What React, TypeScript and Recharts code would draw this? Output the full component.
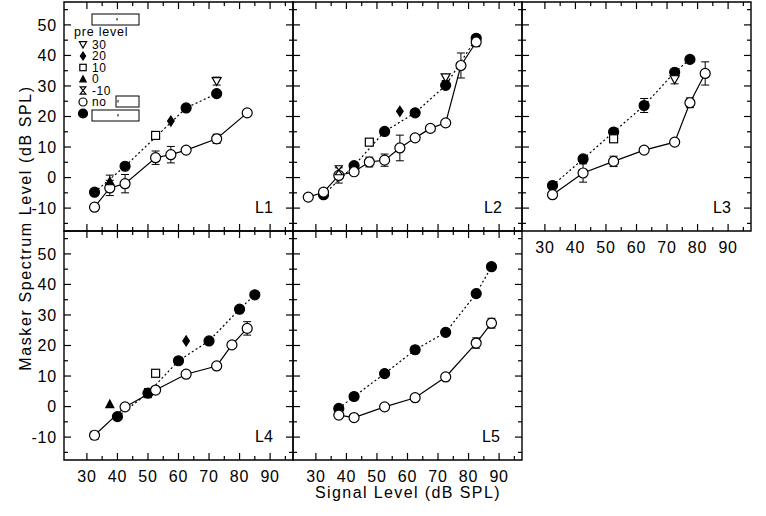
import { ScatterChart, Scatter, XAxis, YAxis, ErrorBar, ReferenceArea } from "recharts";

const xTicks = [30, 35, 40, 45, 50, 55, 60, 65, 70, 75, 80, 85, 90, 95];
const yTicks = [-15, -10, -5, 0, 5, 10, 15, 20, 25, 30, 35, 40, 45, 50, 55];
const preLevels = ["30", "20", "10", "0", "-10", "no"];

// x = signal level, y = masker level, e = error (dB), pre = pre level
const l1None = [
  { x: 32.5, y: -9.7, e: 0 }, { x: 37.5, y: -3.4, e: 2.5 }, { x: 42.5, y: -2.0, e: 3 },
  { x: 52.5, y: 6.5, e: 2.2 }, { x: 57.5, y: 7.5, e: 2.7 }, { x: 62.5, y: 9.0, e: 0 },
  { x: 72.5, y: 12.7, e: 1.5 }, { x: 82.5, y: 21.2, e: 0 },
];
const l1Fill = [
  { x: 32.5, y: -4.8, e: 0 }, { x: 42.5, y: 3.7, e: 0 }, { x: 62.5, y: 22.8, e: 0 },
  { x: 72.5, y: 27.5, e: 0 },
];
const l1Pre = [
  { x: 72.5, y: 31.6, e: 1.3, pre: 30 }, { x: 57.5, y: 18.5, e: 0, pre: 20 },
  { x: 52.5, y: 13.8, e: 0, pre: 10 }, { x: 37.5, y: -1.2, e: 2, pre: 0 },
];

const l2None = [
  { x: 27.5, y: -6.4, e: 0 }, { x: 32.5, y: -4.8, e: 0 }, { x: 37.5, y: 0.7, e: 2.5 },
  { x: 42.5, y: 1.9, e: 0 }, { x: 47.5, y: 5.1, e: 1.6 }, { x: 52.5, y: 5.7, e: 2 },
  { x: 57.5, y: 9.7, e: 4.2 }, { x: 62.5, y: 13.0, e: 0 }, { x: 67.5, y: 16.1, e: 0 },
  { x: 72.5, y: 17.9, e: 0 }, { x: 77.5, y: 36.7, e: 4.1 }, { x: 82.5, y: 44.4, e: 1.5 },
];
const l2Fill = [
  { x: 32.5, y: -5.6, e: 0 }, { x: 42.5, y: 3.9, e: 0 }, { x: 52.5, y: 15.1, e: 0 },
  { x: 62.5, y: 21.2, e: 0 }, { x: 72.5, y: 30.2, e: 0 }, { x: 82.5, y: 45.6, e: 1 },
];
const l2Pre = [
  { x: 37.5, y: 2.4, e: 0, pre: -10 }, { x: 47.5, y: 11.6, e: 0, pre: 10 },
  { x: 57.5, y: 21.7, e: 0, pre: 20 }, { x: 72.5, y: 32.8, e: 1, pre: 30 },
];

const l3None = [
  { x: 32.5, y: -5.6, e: 1 }, { x: 42.5, y: 1.5, e: 3 }, { x: 52.5, y: 5.3, e: 1.7 },
  { x: 62.5, y: 9.0, e: 0 }, { x: 72.5, y: 11.6, e: 0 }, { x: 77.5, y: 24.5, e: 1.6 },
  { x: 82.5, y: 34.1, e: 3.8 },
];
const l3Fill = [
  { x: 32.5, y: -2.6, e: 0 }, { x: 42.5, y: 6.1, e: 0 }, { x: 52.5, y: 14.9, e: 0 },
  { x: 62.5, y: 23.6, e: 2.3 }, { x: 72.5, y: 34.5, e: 0 }, { x: 77.5, y: 38.7, e: 0 },
];
const l3Pre = [
  { x: 52.5, y: 12.7, e: 0, pre: 10 }, { x: 72.5, y: 32.2, e: 1.5, pre: 30 },
];

const l4None = [
  { x: 32.5, y: -9.4, e: 1.3 }, { x: 42.5, y: -0.1, e: 0 }, { x: 52.5, y: 5.4, e: 0 },
  { x: 62.5, y: 10.6, e: 0 }, { x: 72.5, y: 13.3, e: 0 }, { x: 77.5, y: 20.2, e: 0 },
  { x: 82.5, y: 25.6, e: 2.2 },
];
const l4Fill = [
  { x: 40, y: -3.3, e: 0 }, { x: 50, y: 4.4, e: 1.5 }, { x: 60, y: 15.0, e: 0 },
  { x: 70, y: 21.5, e: 0 }, { x: 80, y: 31.9, e: 0 }, { x: 85, y: 36.6, e: 0 },
];
const l4Pre = [
  { x: 37.5, y: 0.8, e: 0, pre: 0 }, { x: 52.5, y: 10.9, e: 0, pre: 10 },
  { x: 62.5, y: 21.5, e: 0, pre: 20 },
];

const l5None = [
  { x: 37.5, y: -2.8, e: 0 }, { x: 42.5, y: -3.6, e: 0 }, { x: 52.5, y: -0.1, e: 0 },
  { x: 62.5, y: 2.9, e: 0 }, { x: 72.5, y: 9.7, e: 0 }, { x: 82.5, y: 20.8, e: 1.7 },
  { x: 87.5, y: 27.3, e: 1.6 },
];
const l5Fill = [
  { x: 37.5, y: -0.6, e: 0 }, { x: 42.5, y: 3.3, e: 0 }, { x: 52.5, y: 10.8, e: 0 },
  { x: 62.5, y: 18.6, e: 0 }, { x: 72.5, y: 24.3, e: 0 }, { x: 82.5, y: 37.0, e: 0 },
  { x: 87.5, y: 45.8, e: 0 },
];

const SIZE = 229;
const PAD = 40;
const XD = [22.5, 97.5];
const YD = [-17.5, 57.5];
const FONT = "'Liberation Sans', Arial, sans-serif";

function Marker({ cx, cy, kind, k = 1 }: { cx: number; cy: number; kind: string; k?: number }) {
  const s = { stroke: "#000", strokeWidth: 1.2 };
  switch (kind) {
    case "no":
      return <circle cx={cx} cy={cy} r={5 * k} fill="#fff" {...s} />;
    case "fill":
      return <circle cx={cx} cy={cy} r={5 * k} fill="#000" {...s} />;
    case "30":
      return <path d={`M${cx - 4.5 * k},${cy - 3.5 * k}L${cx + 4.5 * k},${cy - 3.5 * k}L${cx},${cy + 4.5 * k}Z`} fill="#fff" {...s} />;
    case "20":
      return <path d={`M${cx},${cy - 5 * k}L${cx + 3.3 * k},${cy}L${cx},${cy + 5 * k}L${cx - 3.3 * k},${cy}Z`} fill="#000" {...s} />;
    case "10":
      return <rect x={cx - 4 * k} y={cy - 4 * k} width={8 * k} height={8 * k} fill="#fff" {...s} />;
    case "0":
      return <path d={`M${cx - 4 * k},${cy + 3.5 * k}L${cx + 4 * k},${cy + 3.5 * k}L${cx},${cy - 4 * k}Z`} fill="#000" {...s} />;
    default:
      return <path d={`M${cx - 3.5 * k},${cy - 4.5 * k}L${cx + 3.5 * k},${cy - 4.5 * k}L${cx - 3.5 * k},${cy + 4.5 * k}L${cx + 3.5 * k},${cy + 4.5 * k}Z`} fill="#fff" {...s} />;
  }
}

function XTick(p: any) {
  const v = p.payload.value;
  const major = v % 10 === 0;
  const len = major ? 7 : 4;
  return (
    <g>
      <line x1={p.x} x2={p.x} y1={p.y} y2={p.y - len} stroke="#000" strokeWidth={1.2} />
      <line x1={p.x} x2={p.x} y1={p.y - SIZE} y2={p.y - SIZE + len} stroke="#000" strokeWidth={1.2} />
      {p.showLabel && major && v <= 90 && (
        <text x={p.x} y={p.y + 21.5} textAnchor="middle" fontSize={16} letterSpacing={0.8} fontFamily={FONT} fill="#000">
          {v}
        </text>
      )}
    </g>
  );
}

function YTick(p: any) {
  const v = p.payload.value;
  const major = v % 10 === 0;
  const len = major ? 7 : 4;
  return (
    <g>
      <line x1={p.x} x2={p.x + len} y1={p.y} y2={p.y} stroke="#000" strokeWidth={1.2} />
      <line x1={p.x + SIZE} x2={p.x + SIZE - len} y1={p.y} y2={p.y} stroke="#000" strokeWidth={1.2} />
      {p.showLabel && major && v >= -10 && v <= 50 && (
        <text x={p.x - 7} y={p.y} dy="0.36em" textAnchor="end" fontSize={16} letterSpacing={0.8} fontFamily={FONT} fill="#000">
          {v}
        </text>
      )}
    </g>
  );
}

type Pt = { x: number; y: number; e: number; pre?: number };

function Panel({ left, top, none, fill, pre, xLabels, yLabels }: {
  left: number; top: number; none: Pt[]; fill: Pt[]; pre: Pt[]; xLabels: boolean; yLabels: boolean;
}) {
  return (
    <div style={{ position: "absolute", left: left - PAD, top: top - PAD }}>
      <ScatterChart width={SIZE + 2 * PAD} height={SIZE + 2 * PAD} margin={{ top: PAD, right: PAD, bottom: PAD - 1, left: PAD - 1 }}>
        <XAxis type="number" dataKey="x" domain={XD} ticks={xTicks} interval={0} allowDataOverflow height={1}
          axisLine={false} tickLine={false} tickSize={0} tickMargin={0}
          tick={(p: any) => <XTick {...p} showLabel={xLabels} />} />
        <YAxis type="number" dataKey="y" domain={YD} ticks={yTicks} interval={0} allowDataOverflow width={1}
          axisLine={false} tickLine={false} tickSize={0} tickMargin={0}
          tick={(p: any) => <YTick {...p} showLabel={yLabels} />} />
        <ReferenceArea x1={XD[0]} x2={XD[1]} y1={YD[0]} y2={YD[1]} fill="none" fillOpacity={0} stroke="#000" strokeWidth={1.4} />
        <Scatter data={fill} fill="#000" isAnimationActive={false}
          line={{ stroke: "#000", strokeWidth: 1.2, strokeDasharray: "2 2.5" }}
          shape={(p: any) => <Marker cx={p.cx} cy={p.cy} kind="fill" />}>
          <ErrorBar dataKey="e" direction="y" width={4} stroke="#000" strokeWidth={1} />
        </Scatter>
        <Scatter data={none} fill="#000" isAnimationActive={false}
          line={{ stroke: "#000", strokeWidth: 1.2 }}
          shape={(p: any) => <Marker cx={p.cx} cy={p.cy} kind="no" />}>
          <ErrorBar dataKey="e" direction="y" width={4} stroke="#000" strokeWidth={1} />
        </Scatter>
        {pre.length > 0 && (
          <Scatter data={pre} fill="#000" isAnimationActive={false}
            shape={(p: any) => <Marker cx={p.cx} cy={p.cy} kind={String(p.payload.pre)} />}>
            <ErrorBar dataKey="e" direction="y" width={4} stroke="#000" strokeWidth={1} />
          </Scatter>
        )}
      </ScatterChart>
    </div>
  );
}

const legendRows = [44.5, 56, 67.5, 79, 90.5, 102];

export default function App() {
  return (
    <div style={{ position: "absolute", left: 0, top: 0, width: 766, height: 516, background: "#fff" }}>
      <Panel left={64} top={2} none={l1None} fill={l1Fill} pre={l1Pre} xLabels={false} yLabels />
      <Panel left={293} top={2} none={l2None} fill={l2Fill} pre={l2Pre} xLabels={false} yLabels={false} />
      <Panel left={522} top={2} none={l3None} fill={l3Fill} pre={l3Pre} xLabels yLabels={false} />
      <Panel left={64} top={231} none={l4None} fill={l4Fill} pre={l4Pre} xLabels yLabels />
      <Panel left={293} top={231} none={l5None} fill={l5Fill} pre={[]} xLabels yLabels={false} />
      <svg width={766} height={516} style={{ position: "absolute", left: 0, top: 0, pointerEvents: "none" }} fontFamily={FONT}>
        <text transform="translate(31,228) rotate(-90)" textAnchor="middle" fontSize={16} letterSpacing={1.6}>
          Masker Spectrum Level (dB SPL)
        </text>
        <text x={408} y={498} textAnchor="middle" fontSize={16} letterSpacing={1.4}>
          Signal Level (dB SPL)
        </text>
        <text x={255} y={213} fontSize={16}>L1</text>
        <text x={484} y={213} fontSize={16}>L2</text>
        <text x={713} y={213} fontSize={16}>L3</text>
        <text x={255} y={442} fontSize={16}>L4</text>
        <text x={482} y={442} fontSize={16}>L5</text>
        <rect x={92} y={14} width={47} height={11} fill="#fff" stroke="#000" strokeWidth={1} />
        <line x1={117} x2={117} y1={18} y2={20.5} stroke="#000" />
        <text x={74} y={35.5} fontSize={12.5} letterSpacing={0.8}>pre level</text>
        {preLevels.map((lv, i) => (
          <g key={lv}>
            <Marker cx={83} cy={legendRows[i]} kind={lv} k={0.8} />
            <text x={92} y={legendRows[i] + 4.3} fontSize={12} letterSpacing={0.6}>{lv}</text>
          </g>
        ))}
        <rect x={116} y={96} width={23} height={11} fill="#fff" stroke="#000" strokeWidth={1} />
        <line x1={118} x2={118} y1={100} y2={102.5} stroke="#000" />
        <Marker cx={83} cy={113.5} kind="fill" k={0.9} />
        <rect x={92} y={110} width={47} height={11} fill="#fff" stroke="#000" strokeWidth={1} />
        <line x1={118} x2={118} y1={114} y2={116.5} stroke="#000" />
      </svg>
    </div>
  );
}
